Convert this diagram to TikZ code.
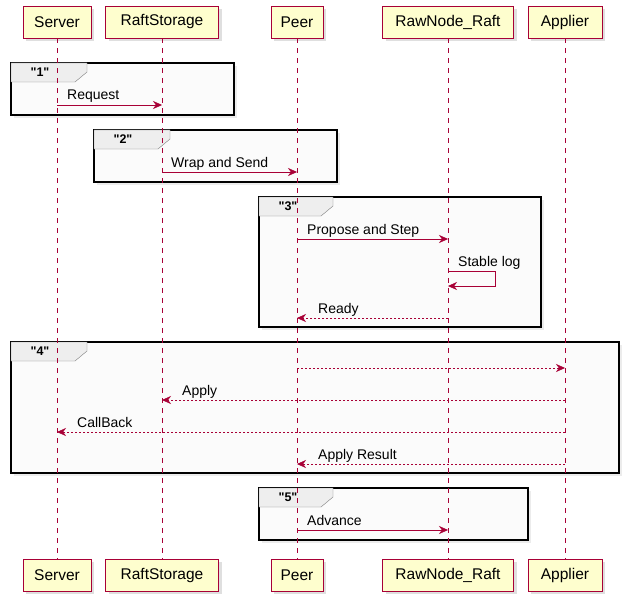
\documentclass[tikz,border=0pt]{standalone}
\usepackage{fontspec}
\setmainfont{Liberation Sans}
\newfontfamily\plainquote{Liberation Sans}
\usetikzlibrary{positioning, arrows.meta, shadows}
\definecolor{plumred}{HTML}{A80036}
\definecolor{plumfill}{HTML}{FEFECE}
\definecolor{tabgray}{HTML}{EEEEEE}

\begin{document}
\begin{tikzpicture}[
        x=1pt, y=-1pt,
        actor/.style={draw=plumred, fill=plumfill, minimum height=32pt,
                      inner xsep=0pt, font=\fontsize{15.5}{17}\selectfont,
                      drop shadow={shadow xshift=3pt, shadow yshift=-3pt, opacity=0.25}},
        life/.style={plumred, dash pattern=on 5pt off 5pt},
        msg/.style={plumred, -{Stealth[length=9pt, width=8pt]}},
        reply/.style={msg, dash pattern=on 2pt off 2pt},
        lbl/.style={text=black, font=\fontsize{14}{16}\selectfont, inner sep=0pt},
        grp/.style={draw=black, line width=2pt, fill=white!98.5!black,
                    drop shadow={shadow xshift=3pt, shadow yshift=-3pt, opacity=0.15}},
        tab/.style={draw=gray, fill=tabgray},
        grplbl/.style={font=\plainquote\bfseries\fontsize{12.5}{14}\selectfont, inner sep=0pt},
    ]
    \useasboundingbox (0,0) rectangle (634,607);

    % participants, top and bottom
    \node[actor, minimum width=68pt]  (srv) at (57,22)  {Server};
    \node[actor, minimum width=113pt] (rs)  at (162,22) {RaftStorage};
    \node[actor, minimum width=52pt]  (peer) at (297,22) {Peer};
    \node[actor, minimum width=131pt] (raw) at (448,22) {RawNode\_Raft};
    \node[actor, minimum width=74pt]  (app) at (565,22) {Applier};

    \node[actor, minimum width=68pt]  (srvB) at (57,575)  {Server};
    \node[actor, minimum width=113pt] (rsB)  at (162,575) {RaftStorage};
    \node[actor, minimum width=52pt]  (peerB) at (297,575) {Peer};
    \node[actor, minimum width=131pt] (rawB) at (448,575) {RawNode\_Raft};
    \node[actor, minimum width=74pt]  (appB) at (565,575) {Applier};

    % groups
    \draw[grp] (11,63) rectangle (234,115);
    \draw[tab] (11,63) -- (87,63) -- (87,72) -- (75,82) -- (11,82) -- cycle;
    \node[grplbl] (g1) at (40,72) {"1"};

    \draw[grp] (94,130) rectangle (337,182);
    \draw[tab] (94,130) -- (170,130) -- (170,139) -- (158,149) -- (94,149) -- cycle;
    \node[grplbl] (g2) at (123,139) {"2"};

    \draw[grp] (259,197) rectangle (541,327);
    \draw[tab] (259,197) -- (333,197) -- (333,206) -- (321,216) -- (259,216) -- cycle;
    \node[grplbl] (g3) at (288,206) {"3"};

    \draw[grp] (11,342) rectangle (619,473);
    \draw[tab] (11,342) -- (87,342) -- (87,351) -- (75,361) -- (11,361) -- cycle;
    \node[grplbl] (g4) at (40,351) {"4"};

    \draw[grp] (259,488) rectangle (528,540);
    \draw[tab] (259,488) -- (333,488) -- (333,497) -- (321,507) -- (259,507) -- cycle;
    \node[grplbl] (g5) at (288,497) {"5"};

    % lifelines
    \draw[life] (srv) -- (srvB);
    \draw[life] (rs) -- (rsB);
    \draw[life] (peer) -- (peerB);
    \draw[life] (raw) -- (rawB);
    \draw[life] (app) -- (appB);

    % messages
    \draw[msg] (srv |- 0,105) -- node[lbl, pos=0, anchor=base west, xshift=10pt, yshift=5pt] {Request} (rs |- 0,105);
    \draw[msg] (rs |- 0,172) -- node[lbl, pos=0, anchor=base west, xshift=9pt, yshift=5pt] {Wrap and Send} (peer |- 0,172);
    \draw[msg] (peer |- 0,239) -- node[lbl, pos=0, anchor=base west, xshift=10pt, yshift=5pt] {Propose and Step} (raw |- 0,239);
    \draw[msg] (raw |- 0,271) -- ++(47,0) -- ++(0,15) -- (raw |- 0,286);
    \node[lbl, anchor=base west] (stab) at (458,266) {Stable log};
    \draw[reply] (raw |- 0,318) -- node[lbl, pos=1, anchor=base west, xshift=21pt, yshift=5pt] {Ready} (peer |- 0,318);

    \draw[reply] (peer |- 0,368) -- (app |- 0,368);
    \draw[reply] (app |- 0,400) -- node[lbl, pos=1, anchor=base west, xshift=20pt, yshift=5pt] {Apply} (rs |- 0,400);
    \draw[reply] (app |- 0,432) -- node[lbl, pos=1, anchor=base west, xshift=20pt, yshift=5pt] {CallBack} (srv |- 0,432);
    \draw[reply] (app |- 0,464) -- node[lbl, pos=1, anchor=base west, xshift=21pt, yshift=5pt] {Apply Result} (peer |- 0,464);

    \draw[msg] (peer |- 0,530) -- node[lbl, pos=0, anchor=base west, xshift=10pt, yshift=5pt] {Advance} (raw |- 0,530);
\end{tikzpicture}
\end{document}
